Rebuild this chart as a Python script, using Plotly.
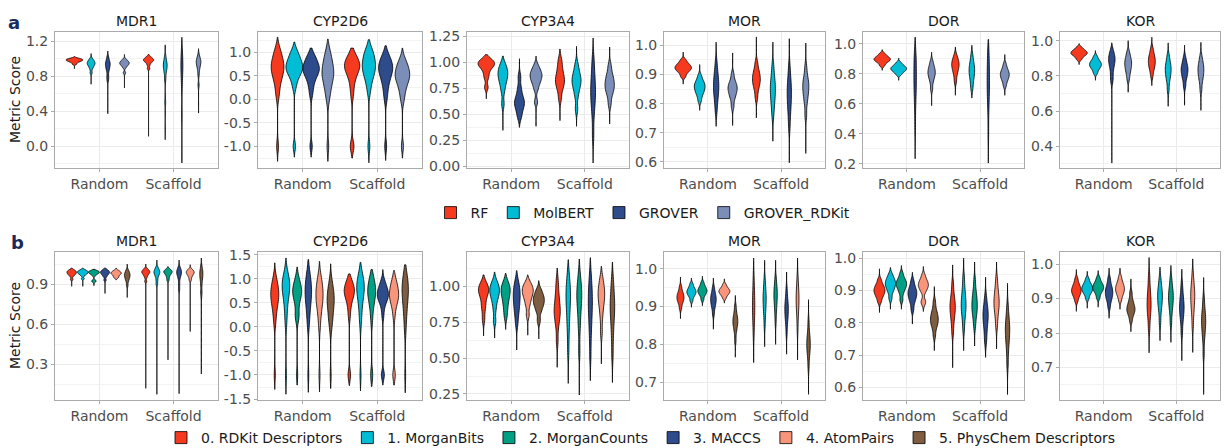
import numpy as np
import plotly.graph_objects as go

SPLITS = ["Random", "Scaffold"]
TARGETS = ["MDR1", "CYP2D6", "CYP3A4", "MOR", "DOR", "KOR"]
MODELS_A = ["RF", "MolBERT", "GROVER", "GROVER_RDKit"]
MODELS_B = ["0. RDKit Descriptors", "1. MorganBits", "2. MorganCounts",
            "3. MACCS", "4. AtomPairs", "5. PhysChem Descriptors"]

# ---------------- Row a: estimated score samples (one list per model) ----------------
A_MDR1 = {
    "Random": [
        [0.888, 0.94, 0.958, 0.968, 0.975, 0.98, 0.985, 0.99, 0.995, 1.0, 1.008, 1.029],
        [0.71, 0.84, 0.885, 0.91, 0.925, 0.937, 0.947, 0.957, 0.968, 0.98, 1.0, 1.06],
        [0.373, 0.76, 0.80, 0.86, 0.89, 0.91, 0.93, 0.945, 0.96, 0.98, 1.02, 1.09],
        [0.667, 0.84, 0.9, 0.92, 0.932, 0.942, 0.95, 0.958, 0.967, 0.978, 0.995, 1.05],
    ],
    "Scaffold": [
        [0.114, 0.89, 0.93, 0.955, 0.968, 0.977, 0.985, 0.992, 1.0, 1.01, 1.025, 1.055],
        [0.076, 0.5, 0.76, 0.83, 0.87, 0.895, 0.915, 0.935, 0.955, 0.98, 1.03, 1.16],
        [-0.19, 0.35, 0.66, 0.76, 0.82, 0.87, 0.91, 0.95, 0.99, 1.04, 1.12, 1.246],
        [0.38, 0.7, 0.82, 0.88, 0.91, 0.935, 0.955, 0.97, 0.985, 1.0, 1.04, 1.116],
    ],
}
A_CYP2D6 = {
    "Random": [
        [-1.32, -1.0, 0.05, 0.2, 0.32, 0.41, 0.48, 0.53, 0.58, 0.62, 0.66, 0.7, 0.74, 0.78, 0.83, 0.88, 0.94, 1.01, 1.1, 1.32],
        [-1.23, -1.0, 0.25, 0.38, 0.46, 0.52, 0.56, 0.6, 0.63, 0.66, 0.69, 0.72, 0.75, 0.79, 0.83, 0.87, 0.92, 0.98, 1.06, 1.22],
        [-1.23, -1.0, 0.1, 0.25, 0.35, 0.43, 0.49, 0.53, 0.57, 0.6, 0.63, 0.66, 0.69, 0.72, 0.76, 0.8, 0.85, 0.9, 0.97, 1.09],
        [-1.32, -1.0, -0.02, 0.12, 0.22, 0.3, 0.37, 0.43, 0.48, 0.52, 0.56, 0.6, 0.65, 0.7, 0.75, 0.81, 0.88, 0.96, 1.06, 1.28],
    ],
    "Scaffold": [
        [-1.25, -1.02, -0.98, 0.08, 0.25, 0.38, 0.47, 0.54, 0.59, 0.63, 0.66, 0.69, 0.72, 0.75, 0.78, 0.82, 0.86, 0.91, 0.97, 1.09],
        [-1.35, -1.0, 0.15, 0.3, 0.4, 0.47, 0.53, 0.58, 0.62, 0.66, 0.7, 0.74, 0.78, 0.82, 0.87, 0.92, 0.97, 1.03, 1.1, 1.27],
        [-1.30, -1.0, 0.0, 0.15, 0.27, 0.36, 0.43, 0.49, 0.54, 0.58, 0.62, 0.65, 0.69, 0.72, 0.76, 0.8, 0.85, 0.9, 0.98, 1.14],
        [-1.25, -1.0, -0.03, 0.1, 0.2, 0.28, 0.34, 0.39, 0.43, 0.47, 0.5, 0.53, 0.57, 0.61, 0.65, 0.69, 0.74, 0.8, 0.88, 1.09],
    ],
}
A_CYP3A4 = {
    "Random": [
        [0.65, 0.76, 0.85, 0.9, 0.94, 0.96, 0.975, 0.99, 1.0, 1.015, 1.035, 1.074],
        [0.346, 0.6, 0.72, 0.78, 0.82, 0.85, 0.875, 0.9, 0.925, 0.95, 0.99, 1.06],
        [0.375, 0.47, 0.52, 0.56, 0.59, 0.61, 0.63, 0.66, 0.7, 0.76, 0.86, 1.035],
        [0.385, 0.62, 0.74, 0.79, 0.82, 0.845, 0.865, 0.885, 0.905, 0.93, 0.97, 1.06],
    ],
    "Scaffold": [
        [0.44, 0.65, 0.73, 0.77, 0.8, 0.825, 0.85, 0.88, 0.92, 0.97, 1.03, 1.128],
        [0.385, 0.55, 0.67, 0.73, 0.77, 0.8, 0.825, 0.85, 0.88, 0.92, 0.98, 1.154],
        [0.032, 0.3, 0.48, 0.58, 0.64, 0.69, 0.74, 0.79, 0.85, 0.93, 1.03, 1.234],
        [0.407, 0.6, 0.68, 0.72, 0.75, 0.775, 0.8, 0.83, 0.86, 0.9, 0.97, 1.147],
    ],
}
A_MOR = {
    "Random": [
        [0.867, 0.893, 0.905, 0.912, 0.917, 0.921, 0.925, 0.929, 0.934, 0.94, 0.95, 0.977],
        [0.777, 0.81, 0.828, 0.838, 0.846, 0.853, 0.859, 0.865, 0.872, 0.88, 0.895, 0.934],
        [0.722, 0.775, 0.805, 0.825, 0.84, 0.853, 0.865, 0.878, 0.893, 0.91, 0.94, 1.011],
        [0.725, 0.79, 0.815, 0.828, 0.838, 0.846, 0.853, 0.86, 0.868, 0.878, 0.9, 0.974],
    ],
    "Scaffold": [
        [0.751, 0.82, 0.845, 0.86, 0.87, 0.879, 0.887, 0.896, 0.906, 0.918, 0.94, 1.029],
        [0.671, 0.76, 0.79, 0.81, 0.825, 0.84, 0.853, 0.866, 0.88, 0.9, 0.93, 1.011],
        [0.597, 0.72, 0.76, 0.785, 0.805, 0.822, 0.838, 0.853, 0.87, 0.89, 0.925, 1.023],
        [0.629, 0.76, 0.8, 0.82, 0.835, 0.847, 0.858, 0.869, 0.88, 0.895, 0.925, 1.008],
    ],
}
A_DOR = {
    "Random": [
        [0.824, 0.855, 0.872, 0.882, 0.889, 0.895, 0.9, 0.906, 0.913, 0.922, 0.936, 0.962],
        [0.757, 0.795, 0.81, 0.819, 0.826, 0.832, 0.838, 0.844, 0.851, 0.86, 0.875, 0.906],
        [0.233, 0.45, 0.58, 0.65, 0.7, 0.74, 0.78, 0.82, 0.86, 0.9, 0.95, 1.045],
        [0.588, 0.7, 0.745, 0.77, 0.787, 0.8, 0.812, 0.825, 0.84, 0.857, 0.885, 0.944],
    ],
    "Scaffold": [
        [0.657, 0.75, 0.79, 0.815, 0.832, 0.847, 0.86, 0.872, 0.885, 0.9, 0.925, 0.98],
        [0.639, 0.7, 0.74, 0.77, 0.792, 0.81, 0.826, 0.843, 0.862, 0.885, 0.925, 0.991],
        [0.204, 0.4, 0.55, 0.63, 0.68, 0.72, 0.76, 0.8, 0.85, 0.9, 0.96, 1.03],
        [0.657, 0.72, 0.748, 0.765, 0.778, 0.789, 0.799, 0.81, 0.822, 0.838, 0.865, 0.929],
    ],
}
A_KOR = {
    "Random": [
        [0.864, 0.893, 0.907, 0.916, 0.922, 0.927, 0.932, 0.937, 0.943, 0.95, 0.962, 0.983],
        [0.775, 0.815, 0.833, 0.845, 0.853, 0.86, 0.867, 0.874, 0.882, 0.892, 0.91, 0.943],
        [0.305, 0.77, 0.8, 0.835, 0.857, 0.873, 0.886, 0.898, 0.91, 0.924, 0.945, 0.987],
        [0.707, 0.78, 0.81, 0.83, 0.845, 0.858, 0.87, 0.882, 0.895, 0.91, 0.935, 1.0],
    ],
    "Scaffold": [
        [0.745, 0.8, 0.83, 0.848, 0.862, 0.874, 0.886, 0.898, 0.912, 0.928, 0.955, 1.019],
        [0.627, 0.72, 0.765, 0.79, 0.808, 0.823, 0.837, 0.851, 0.866, 0.884, 0.915, 0.987],
        [0.633, 0.74, 0.775, 0.796, 0.811, 0.824, 0.836, 0.848, 0.861, 0.877, 0.905, 0.974],
        [0.604, 0.72, 0.763, 0.787, 0.805, 0.82, 0.834, 0.848, 0.863, 0.88, 0.91, 0.99],
    ],
}

# ---------------- Row b: estimated score samples (one list per descriptor) ----------------
B_MDR1 = {
    "Random": [
        [0.883, 0.935, 0.958, 0.968, 0.975, 0.98, 0.985, 0.99, 0.995, 1.0, 1.007, 1.02],
        [0.883, 0.94, 0.962, 0.972, 0.978, 0.983, 0.987, 0.991, 0.995, 1.0, 1.007, 1.02],
        [0.888, 0.92, 0.925, 0.965, 0.975, 0.981, 0.985, 0.989, 0.992, 0.996, 1.002, 1.01],
        [0.83, 0.93, 0.955, 0.966, 0.974, 0.98, 0.985, 0.99, 0.995, 1.0, 1.008, 1.02],
        [0.93, 0.948, 0.955, 0.965, 0.972, 0.977, 0.981, 0.985, 0.99, 0.995, 1.003, 1.02],
        [0.80, 0.89, 0.92, 0.935, 0.947, 0.956, 0.964, 0.972, 0.98, 0.99, 1.005, 1.05],
    ],
    "Scaffold": [
        [0.12, 0.92, 0.95, 0.965, 0.975, 0.982, 0.988, 0.993, 0.998, 1.005, 1.015, 1.05],
        [0.075, 0.9, 0.93, 0.955, 0.968, 0.978, 0.986, 0.993, 1.0, 1.01, 1.025, 1.08],
        [0.333, 0.93, 0.95, 0.965, 0.975, 0.982, 0.988, 0.993, 0.998, 1.003, 1.012, 1.03],
        [0.08, 0.86, 0.9, 0.94, 0.96, 0.972, 0.982, 0.99, 0.998, 1.008, 1.025, 1.08],
        [0.545, 0.93, 0.95, 0.963, 0.972, 0.979, 0.985, 0.99, 0.996, 1.002, 1.012, 1.045],
        [0.227, 0.82, 0.85, 0.9, 0.93, 0.95, 0.965, 0.978, 0.99, 1.005, 1.03, 1.095],
    ],
}
B_CYP2D6 = {
    "Random": [
        [-1.30, -1.0, 0.05, 0.2, 0.31, 0.39, 0.46, 0.51, 0.56, 0.6, 0.64, 0.68, 0.72, 0.76, 0.8, 0.85, 0.9, 0.97, 1.06, 1.33],
        [-1.40, -1.0, 0.05, 0.22, 0.36, 0.47, 0.56, 0.63, 0.69, 0.74, 0.78, 0.82, 0.86, 0.9, 0.94, 0.98, 1.03, 1.09, 1.18, 1.43],
        [-1.21, -1.0, 0.18, 0.21, 0.24, 0.4, 0.5, 0.57, 0.62, 0.66, 0.69, 0.72, 0.75, 0.78, 0.82, 0.86, 0.9, 0.96, 1.05, 1.24],
        [-1.36, -1.0, 0.0, 0.15, 0.27, 0.37, 0.45, 0.52, 0.58, 0.63, 0.68, 0.73, 0.78, 0.83, 0.88, 0.94, 1.0, 1.08, 1.18, 1.40],
        [-1.35, -1.0, -0.02, 0.15, 0.27, 0.36, 0.43, 0.49, 0.54, 0.59, 0.63, 0.67, 0.72, 0.77, 0.82, 0.87, 0.93, 1.0, 1.1, 1.36],
        [-1.28, -1.0, -0.08, 0.1, 0.15, 0.2, 0.3, 0.37, 0.43, 0.48, 0.52, 0.56, 0.6, 0.65, 0.7, 0.75, 0.81, 0.88, 0.98, 1.31],
    ],
    "Scaffold": [
        [-1.22, -1.02, -0.98, 0.2, 0.35, 0.46, 0.54, 0.6, 0.64, 0.67, 0.7, 0.73, 0.76, 0.79, 0.82, 0.85, 0.89, 0.94, 1.0, 1.10],
        [-1.33, -1.0, 0.05, 0.22, 0.35, 0.45, 0.53, 0.6, 0.66, 0.71, 0.75, 0.79, 0.83, 0.87, 0.91, 0.96, 1.01, 1.07, 1.15, 1.34],
        [-1.24, -1.02, -0.98, 0.1, 0.27, 0.39, 0.48, 0.55, 0.6, 0.64, 0.68, 0.72, 0.76, 0.8, 0.84, 0.88, 0.93, 0.99, 1.07, 1.19],
        [-1.21, -1.02, -0.98, 0.22, 0.38, 0.47, 0.53, 0.57, 0.6, 0.63, 0.65, 0.68, 0.71, 0.74, 0.77, 0.81, 0.85, 0.9, 0.98, 1.19],
        [-1.21, -1.02, -0.98, 0.2, 0.35, 0.44, 0.5, 0.55, 0.59, 0.62, 0.65, 0.68, 0.72, 0.76, 0.8, 0.84, 0.89, 0.95, 1.03, 1.17],
        [-1.37, -1.0, -0.1, 0.08, 0.22, 0.33, 0.42, 0.5, 0.57, 0.63, 0.68, 0.73, 0.78, 0.83, 0.88, 0.93, 0.99, 1.06, 1.15, 1.29],
    ],
}
B_CYP3A4 = {
    "Random": [
        [0.655, 0.77, 0.84, 0.88, 0.92, 0.945, 0.962, 0.977, 0.99, 1.005, 1.03, 1.08],
        [0.64, 0.76, 0.84, 0.89, 0.92, 0.942, 0.96, 0.977, 0.993, 1.01, 1.04, 1.10],
        [0.70, 0.79, 0.84, 0.88, 0.91, 0.935, 0.955, 0.973, 0.99, 1.008, 1.035, 1.09],
        [0.557, 0.74, 0.8, 0.84, 0.87, 0.9, 0.925, 0.95, 0.975, 1.0, 1.04, 1.11],
        [0.66, 0.8, 0.865, 0.9, 0.925, 0.945, 0.96, 0.975, 0.99, 1.005, 1.03, 1.08],
        [0.634, 0.76, 0.82, 0.85, 0.87, 0.887, 0.902, 0.917, 0.933, 0.952, 0.98, 1.04],
    ],
    "Scaffold": [
        [0.436, 0.62, 0.72, 0.77, 0.8, 0.825, 0.85, 0.88, 0.92, 0.97, 1.04, 1.128],
        [0.324, 0.55, 0.68, 0.76, 0.82, 0.87, 0.91, 0.945, 0.98, 1.02, 1.08, 1.186],
        [0.243, 0.55, 0.7, 0.78, 0.84, 0.885, 0.92, 0.95, 0.98, 1.02, 1.08, 1.19],
        [0.343, 0.52, 0.65, 0.73, 0.79, 0.84, 0.88, 0.92, 0.96, 1.01, 1.08, 1.2],
        [0.46, 0.68, 0.78, 0.84, 0.88, 0.91, 0.935, 0.96, 0.985, 1.015, 1.06, 1.14],
        [0.33, 0.52, 0.64, 0.72, 0.78, 0.82, 0.855, 0.89, 0.93, 0.98, 1.05, 1.17],
    ],
}
B_MOR = {
    "Random": [
        [0.868, 0.895, 0.907, 0.913, 0.918, 0.922, 0.926, 0.93, 0.935, 0.941, 0.952, 0.978],
        [0.898, 0.915, 0.925, 0.93, 0.934, 0.937, 0.94, 0.943, 0.947, 0.952, 0.96, 0.975],
        [0.902, 0.918, 0.928, 0.933, 0.937, 0.94, 0.943, 0.946, 0.95, 0.955, 0.963, 0.98],
        [0.84, 0.88, 0.895, 0.903, 0.91, 0.915, 0.92, 0.925, 0.931, 0.938, 0.95, 0.975],
        [0.909, 0.922, 0.929, 0.933, 0.936, 0.939, 0.941, 0.944, 0.947, 0.951, 0.958, 0.973],
        [0.766, 0.81, 0.832, 0.843, 0.851, 0.857, 0.862, 0.868, 0.875, 0.884, 0.9, 0.929],
    ],
    "Scaffold": [
        [0.752, 0.82, 0.85, 0.868, 0.882, 0.895, 0.907, 0.92, 0.935, 0.952, 0.98, 1.028],
        [0.794, 0.85, 0.875, 0.89, 0.902, 0.912, 0.921, 0.93, 0.94, 0.952, 0.972, 1.022],
        [0.80, 0.86, 0.885, 0.9, 0.912, 0.922, 0.93, 0.938, 0.947, 0.958, 0.975, 1.022],
        [0.774, 0.83, 0.855, 0.868, 0.878, 0.887, 0.895, 0.903, 0.912, 0.924, 0.945, 0.991],
        [0.759, 0.84, 0.87, 0.888, 0.9, 0.911, 0.921, 0.931, 0.942, 0.955, 0.978, 1.028],
        [0.668, 0.74, 0.765, 0.778, 0.788, 0.796, 0.804, 0.812, 0.822, 0.835, 0.86, 0.918],
    ],
}
B_DOR = {
    "Random": [
        [0.832, 0.865, 0.878, 0.886, 0.892, 0.897, 0.902, 0.907, 0.913, 0.92, 0.933, 0.967],
        [0.842, 0.875, 0.893, 0.903, 0.91, 0.916, 0.921, 0.927, 0.932, 0.939, 0.95, 0.971],
        [0.842, 0.87, 0.89, 0.902, 0.909, 0.915, 0.92, 0.925, 0.931, 0.938, 0.952, 0.977],
        [0.796, 0.84, 0.86, 0.871, 0.879, 0.886, 0.892, 0.898, 0.905, 0.914, 0.93, 0.956],
        [0.835, 0.86, 0.868, 0.895, 0.905, 0.911, 0.916, 0.921, 0.927, 0.934, 0.947, 0.974],
        [0.714, 0.76, 0.782, 0.793, 0.801, 0.808, 0.815, 0.822, 0.831, 0.843, 0.865, 0.912],
    ],
    "Scaffold": [
        [0.661, 0.77, 0.8, 0.818, 0.831, 0.842, 0.852, 0.862, 0.874, 0.89, 0.92, 0.979],
        [0.714, 0.78, 0.81, 0.828, 0.841, 0.852, 0.863, 0.875, 0.89, 0.91, 0.94, 1.0],
        [0.728, 0.79, 0.815, 0.83, 0.841, 0.851, 0.861, 0.872, 0.885, 0.9, 0.93, 0.988],
        [0.693, 0.74, 0.765, 0.785, 0.8, 0.812, 0.822, 0.832, 0.843, 0.857, 0.88, 0.941],
        [0.719, 0.79, 0.818, 0.835, 0.848, 0.858, 0.868, 0.879, 0.892, 0.908, 0.935, 0.988],
        [0.578, 0.67, 0.71, 0.735, 0.752, 0.766, 0.778, 0.79, 0.804, 0.82, 0.85, 0.922],
    ],
}
B_KOR = {
    "Random": [
        [0.863, 0.893, 0.905, 0.912, 0.917, 0.922, 0.926, 0.931, 0.937, 0.944, 0.957, 0.984],
        [0.872, 0.9, 0.912, 0.918, 0.923, 0.927, 0.931, 0.935, 0.94, 0.946, 0.957, 0.979],
        [0.875, 0.902, 0.914, 0.921, 0.926, 0.93, 0.934, 0.938, 0.943, 0.949, 0.96, 0.981],
        [0.843, 0.875, 0.892, 0.901, 0.908, 0.914, 0.92, 0.926, 0.933, 0.942, 0.958, 0.988],
        [0.869, 0.895, 0.908, 0.915, 0.921, 0.926, 0.931, 0.936, 0.942, 0.95, 0.963, 0.988],
        [0.804, 0.835, 0.85, 0.858, 0.864, 0.869, 0.874, 0.88, 0.888, 0.898, 0.917, 0.957],
    ],
    "Scaffold": [
        [0.743, 0.81, 0.84, 0.857, 0.869, 0.88, 0.891, 0.903, 0.917, 0.935, 0.965, 1.019],
        [0.778, 0.83, 0.86, 0.876, 0.888, 0.898, 0.907, 0.916, 0.926, 0.938, 0.958, 0.991],
        [0.773, 0.83, 0.858, 0.874, 0.886, 0.896, 0.905, 0.914, 0.924, 0.937, 0.958, 0.996],
        [0.72, 0.8, 0.83, 0.847, 0.859, 0.869, 0.878, 0.888, 0.9, 0.915, 0.94, 0.985],
        [0.744, 0.82, 0.852, 0.871, 0.885, 0.897, 0.908, 0.919, 0.93, 0.944, 0.97, 1.015],
        [0.622, 0.74, 0.78, 0.8, 0.814, 0.826, 0.836, 0.846, 0.858, 0.873, 0.9, 0.961],
    ],
}

# ---------------- Tick values ----------------
TICKS_A = {"MDR1": [0.0, 0.4, 0.8, 1.2], "CYP2D6": [-1.0, -0.5, 0.0, 0.5, 1.0],
           "CYP3A4": [0.0, 0.25, 0.5, 0.75, 1.0, 1.25], "MOR": [0.6, 0.7, 0.8, 0.9, 1.0],
           "DOR": [0.2, 0.4, 0.6, 0.8, 1.0], "KOR": [0.4, 0.6, 0.8, 1.0]}
TICKS_B = {"MDR1": [0.3, 0.6, 0.9], "CYP2D6": [-1.5, -1.0, -0.5, 0.0, 0.5, 1.0, 1.5],
           "CYP3A4": [0.25, 0.5, 0.75, 1.0], "MOR": [0.7, 0.8, 0.9, 1.0],
           "DOR": [0.6, 0.7, 0.8, 0.9, 1.0], "KOR": [0.7, 0.8, 0.9, 1.0]}

# ---------------- Styling / layout ----------------
COLORS_A = ["#F63A20", "#00BCD4", "#2E4B8B", "#7A8EB8"]
COLORS_B = ["#F63A20", "#00BCD4", "#00A085", "#2E4B8B", "#F9957B", "#7E5D41"]
YR_A = {"MDR1": [-0.248, 1.307], "CYP2D6": [-1.461, 1.433], "CYP3A4": [-0.016, 1.292],
        "MOR": [0.579, 1.046], "DOR": [0.171, 1.080], "KOR": [0.277, 1.049]}
YR_B = {"MDR1": [0.0325, 1.14], "CYP2D6": [-1.52, 1.556], "CYP3A4": [0.208, 1.24],
        "MOR": [0.653, 1.044], "DOR": [0.561, 1.019], "KOR": [0.606, 1.035]}
DEC = {"CYP3A4": 2}

W, H = 1225, 448
PANEL_X = [(55, 218), (258, 422), (467, 629), (664, 825), (863, 1024), (1060, 1220)]
ROW_Y = [(32, 168), (252, 400)]
GRID = "#EBEBEB"
MINOR = "#F3F3F3"
BORDER = "#ABABAB"
TICKC = "#4D4D4D"

DATA_A = {"MDR1": A_MDR1, "CYP2D6": A_CYP2D6, "CYP3A4": A_CYP3A4,
          "MOR": A_MOR, "DOR": A_DOR, "KOR": A_KOR}
DATA_B = {"MDR1": B_MDR1, "CYP2D6": B_CYP2D6, "CYP3A4": B_CYP3A4,
          "MOR": B_MOR, "DOR": B_DOR, "KOR": B_KOR}


def split_extremes(ys):
    # extremes only set the trimmed span (drawn as the thin tail line)
    s = sorted(ys)
    return s[1:-1], [s[0], s[-1]]


def bandwidth(ys):
    q25, q75 = np.percentile(ys, [25, 75])
    return (q75 - q25) / 3.0


def peak_density(inner, span, bw):
    a = np.asarray(inner, dtype=float)
    g = np.linspace(span[0], span[1], 800)
    dens = np.exp(-0.5 * ((g[:, None] - a[None, :]) / bw) ** 2).sum(axis=1)
    return dens.max() / (len(a) * bw * np.sqrt(2 * np.pi))


fig = go.Figure()
layout_axes = {}
annotations = []

rows = [
    (MODELS_A, DATA_A, TICKS_A, YR_A, COLORS_A, "legend"),
    (MODELS_B, DATA_B, TICKS_B, YR_B, COLORS_B, "legend2"),
]

for r, (models, data, ticks, yr, colors, leg) in enumerate(rows):
    n = len(models)
    full_w = 0.9 / n
    y0px, y1px = ROW_Y[r]
    for j, t in enumerate(TARGETS):
        k = r * 6 + j + 1
        xa = "x" if k == 1 else f"x{k}"
        ya = "y" if k == 1 else f"y{k}"
        info = {}
        for split in SPLITS:
            for m in range(n):
                inner, span = split_extremes(data[t][split][m])
                bw = bandwidth(inner)
                info[(split, m)] = (inner, span, bw, peak_density(inner, span, bw))
        pmax = max(v[3] for v in info.values())
        for si, split in enumerate(SPLITS):
            for m in range(n):
                inner, span, bw, pk = info[(split, m)]
                pos = si + 1 - 0.45 + 0.9 * (m + 0.5) / n
                fig.add_trace(go.Violin(
                    x=[pos] * len(inner), y=inner, xaxis=xa, yaxis=ya,
                    width=full_w * pk / pmax, scalemode="width",
                    spanmode="manual", span=span, bandwidth=bw, points=False,
                    fillcolor=colors[m], line=dict(color="black", width=0.8),
                    name=models[m], legendgroup=f"{leg}{m}", legend=leg,
                    showlegend=(j == 0 and si == 0), hoverinfo="skip",
                ))
        tv = ticks[t]
        d = DEC.get(t, 1)
        step = tv[1] - tv[0]
        lo, hi = yr[t]
        minors = [v - step / 2 for v in tv] + [tv[-1] + step / 2]
        minors = [v for v in minors if lo <= v <= hi]
        x0px, x1px = PANEL_X[j]
        xkey = "xaxis" if k == 1 else f"xaxis{k}"
        ykey = "yaxis" if k == 1 else f"yaxis{k}"
        layout_axes[xkey] = dict(
            domain=[x0px / W, x1px / W], anchor=ya, type="linear", range=[0.4, 2.6],
            tickmode="array", tickvals=[1, 2], ticktext=SPLITS,
            showgrid=True, gridcolor=GRID, gridwidth=1, zeroline=False,
            showline=True, mirror=True, linecolor=BORDER, linewidth=1,
            ticks="outside", ticklen=3, tickcolor=BORDER,
            tickfont=dict(size=14, color=TICKC),
        )
        layout_axes[ykey] = dict(
            domain=[1 - y1px / H, 1 - y0px / H], anchor=xa, range=[lo, hi],
            tickmode="array", tickvals=tv, ticktext=[f"{v:.{d}f}" for v in tv],
            showgrid=True, gridcolor=GRID, gridwidth=1, zeroline=False,
            showline=True, mirror=True, linecolor=BORDER, linewidth=1,
            ticks="outside", ticklen=3, tickcolor=BORDER,
            tickfont=dict(size=14, color=TICKC),
            minor=dict(tickmode="array", tickvals=minors, showgrid=True,
                       gridcolor=MINOR, gridwidth=1, ticklen=0),
        )
        annotations.append(dict(
            text=t, x=(x0px + x1px) / 2 / W, y=1 - (y0px - 11) / H,
            xref="paper", yref="paper", xanchor="center", yanchor="middle",
            showarrow=False, font=dict(size=14, color="#1A1A1A"),
        ))
    annotations.append(dict(
        text="Metric Score", x=15 / W, y=1 - (y0px + y1px) / 2 / H,
        xref="paper", yref="paper", xanchor="center", yanchor="middle",
        textangle=-90, showarrow=False, font=dict(size=14, color="#1A1A1A"),
    ))

annotations.append(dict(text="<b>a</b>", x=6 / W, y=1 - 23 / H, xref="paper", yref="paper",
                        xanchor="left", yanchor="middle", showarrow=False,
                        font=dict(size=18, color="#1B2A5C")))
annotations.append(dict(text="<b>b</b>", x=9 / W, y=1 - 242 / H, xref="paper", yref="paper",
                        xanchor="left", yanchor="middle", showarrow=False,
                        font=dict(size=18, color="#1B2A5C")))

legend_style = dict(orientation="h", xanchor="center", yanchor="middle",
                    font=dict(size=14, color="#1A1A1A"), itemwidth=30,
                    bgcolor="rgba(0,0,0,0)", tracegroupgap=0)

fig.update_layout(
    width=W, height=H, margin=dict(l=0, r=0, t=0, b=0, autoexpand=False),
    plot_bgcolor="white", paper_bgcolor="white",
    font=dict(family="DejaVu Sans", size=14, color=TICKC),
    violinmode="overlay", showlegend=True,
    legend=dict(x=643 / W, y=1 - 213 / H, **legend_style),
    legend2=dict(x=641 / W, y=1 - 438 / H, **legend_style),
    annotations=annotations,
    **layout_axes,
)

fig.write_html("out.html")
